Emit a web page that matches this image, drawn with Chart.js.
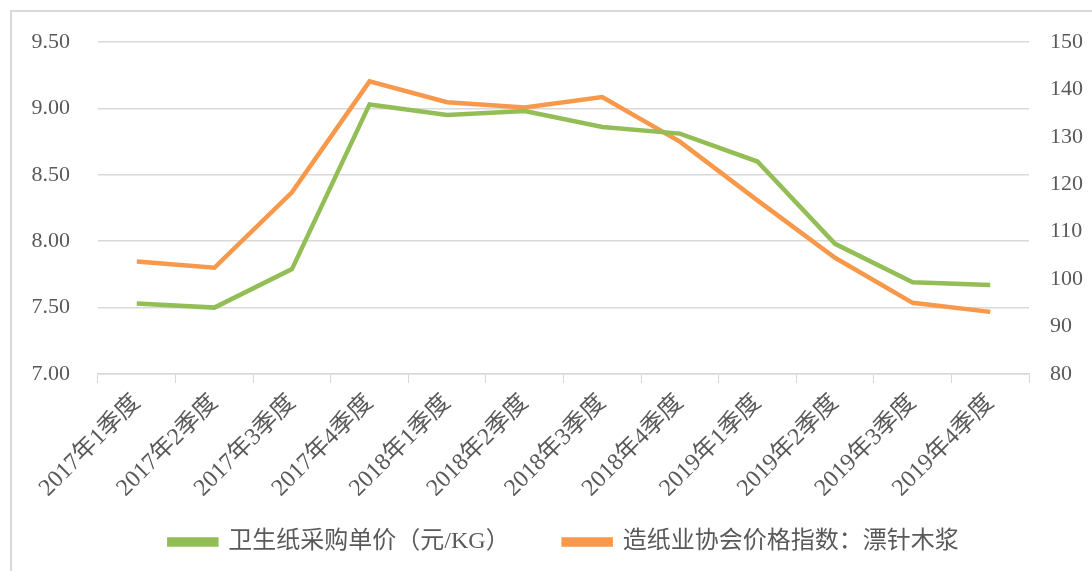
<!DOCTYPE html>
<html>
<head>
<meta charset="utf-8">
<script src="https://cdn.jsdelivr.net/npm/chart.js@4/dist/chart.umd.min.js"></script>
<style>
  html, body { margin: 0; padding: 0; background: #fff; }
  #wrap { position: relative; width: 1092px; height: 571px; overflow: hidden; }
  #frame { position: absolute; left: 10px; top: 10px; right: -10px; bottom: -10px; border: 2px solid #d9d9d9; }
  canvas { position: absolute; left: 0; top: 0; }
</style>
</head>
<body>
<div id="wrap">
  <div id="frame"></div>
  <canvas id="myChart" width="1092" height="571"></canvas>
</div>
<script>
"use strict";

// カテゴリ
const quarters = ['2017年1季度', '2017年2季度', '2017年3季度', '2017年4季度',
  '2018年1季度', '2018年2季度', '2018年3季度', '2018年4季度',
  '2019年1季度', '2019年2季度', '2019年3季度', '2019年4季度'];

// 卫生纸采购单价（左軸）
const tissuePrice = [7.53, 7.50, 7.79, 9.03, 8.95, 8.98, 8.86, 8.81, 8.60, 7.98, 7.69, 7.67];
// 漂针木浆 指数（右軸）
const pulpIndex = [103.7, 102.4, 118.3, 141.7, 137.3, 136.2, 138.4, 129.0, 116.6, 104.5, 95.0, 93.1];

const leftTicks = [7.00, 7.50, 8.00, 8.50, 9.00, 9.50];
const rightTicks = [80, 90, 100, 110, 120, 130, 140, 150];

const seriesNames = ['卫生纸采购单价（元/KG）', '造纸业协会价格指数：漂针木浆'];

const green = '#93bd55';
const orange = '#f7984b';
const tickFont = { family: "'Liberation Serif', 'Noto Sans CJK SC'", size: 22 };
const catFont = { family: "'Liberation Serif', 'Noto Sans CJK SC'", size: 24 };

// 凡例を少し右へずらす / x軸ラベルが切れないようにする
const tweakLayout = {
  id: 'tweakLayout',
  afterLayout: function(chart) {
    chart.legend.left += 36;
    chart.scales.x.bottom += 80;
  }
};

var ctx = document.getElementById("myChart").getContext("2d");
window.myChart = new Chart(ctx, {
  type: 'line',
  data: {
    labels: quarters,
    datasets: [{
      label: seriesNames[0],
      data: tissuePrice,
      borderColor: green,
      backgroundColor: green,
      borderWidth: 4.5,
      pointRadius: 0,
      yAxisID: 'y'
    }, {
      label: seriesNames[1],
      data: pulpIndex,
      borderColor: orange,
      backgroundColor: orange,
      borderWidth: 4.5,
      pointRadius: 0,
      yAxisID: 'y1'
    }]
  },
  options: {
    responsive: false,
    animation: false,
    layout: {
      padding: { top: 42, left: 0, right: 0, bottom: 7 }
    },
    plugins: {
      tooltip: { enabled: false },
      legend: {
        display: true,
        position: 'bottom',
        labels: {
          boxWidth: 47,
          boxHeight: 5,
          padding: 54,
          color: '#595959',
          font: { family: "'Liberation Serif', 'Noto Sans CJK SC'", size: 24 }
        }
      }
    },
    scales: {
      x: {
        offset: true,
        grid: {
          display: true,
          offset: true,
          drawOnChartArea: false,
          tickLength: 9,
          color: '#d9d9d9'
        },
        border: { display: true, color: '#d9d9d9', width: 1.5 },
        ticks: {
          color: '#595959',
          font: catFont,
          maxRotation: 45,
          minRotation: 45,
          autoSkip: false,
          padding: 6
        },
        afterFit: function(scale) { scale.height = 102; }
      },
      y: {
        position: 'left',
        min: 7,
        max: 9.5,
        afterBuildTicks: function(scale) {
          scale.ticks = leftTicks.map(function(v) { return { value: v }; });
        },
        grid: { color: '#d9d9d9', drawTicks: false, lineWidth: 1.5 },
        border: { display: false },
        ticks: {
          color: '#595959',
          font: tickFont,
          padding: 28,
          callback: function(v) { return Number(v).toFixed(2); }
        },
        afterFit: function(scale) { scale.width = 98; }
      },
      y1: {
        position: 'right',
        min: 80,
        max: 150,
        afterBuildTicks: function(scale) {
          scale.ticks = rightTicks.map(function(v) { return { value: v }; });
        },
        grid: { display: false, drawTicks: false },
        border: { display: false },
        ticks: {
          color: '#595959',
          font: tickFont,
          padding: 21
        },
        afterFit: function(scale) { scale.width = 63; }
      }
    }
  },
  plugins: [tweakLayout]
});
</script>
</body>
</html>
